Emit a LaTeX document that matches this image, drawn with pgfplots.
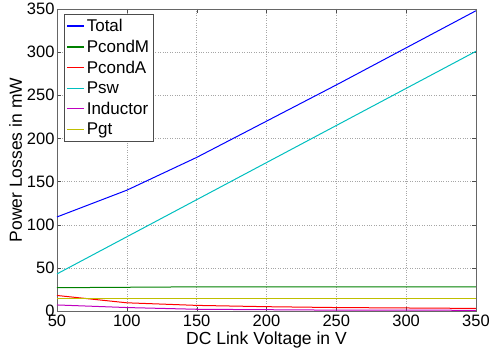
\documentclass[border=0pt]{standalone}
\usepackage{pgfplots}
\pgfplotsset{compat=1.18}
\usepackage{fontspec}
\setmainfont{Liberation Sans}
\begin{document}
\begin{tikzpicture}
\useasboundingbox (-57pt,-45pt) rectangle (433pt,311pt);
\begin{axis}[
  scale only axis, width=419pt, height=302pt,
  xmin=50, xmax=350, ymin=0, ymax=350,
  xtick={50,100,...,350}, ytick={0,50,...,350},
  grid=major, grid style={dotted, gray!70},
  tick align=inside, tick style={black!70},
  axis line style={black!60},
  /pgf/number format/assume math mode=true,
  ticklabel style={font=\fontsize{16.5}{18}\selectfont},
  yticklabel style={xshift=1pt},
  label style={font=\fontsize{17.5}{18}\selectfont},
  xlabel={DC Link Voltage in V}, ylabel={Power Losses in mW},
  xlabel style={yshift=1pt}, ylabel style={yshift=-2pt},
  legend style={font=\fontsize{17}{22}\selectfont, draw=black!70, inner sep=2pt, at={(0.017,0.985)}, anchor=north west, legend cell align=left, nodes={inner ysep=3.5pt}},
  legend image post style={line width=1.4pt},
  every axis plot/.append style={line width=1pt},
]
\addplot[color={rgb,1:red,0;green,0;blue,1}] coordinates {(50,109) (100,140) (150,178) (200,220) (250,262) (300,305) (350,348)};
\addplot[color={rgb,1:red,0;green,0.5;blue,0}] coordinates {(50,27) (100,27.5) (150,28) (200,28) (250,28) (300,28) (350,28)};
\addplot[color={rgb,1:red,1;green,0;blue,0}] coordinates {(50,18) (100,9.5) (150,6.5) (200,5) (250,4) (300,3.5) (350,3)};
\addplot[color={rgb,1:red,0;green,0.75;blue,0.75}] coordinates {(50,43) (100,86) (150,129) (200,172) (250,215) (300,258) (350,301)};
\addplot[color={rgb,1:red,0.75;green,0;blue,0.75}] coordinates {(50,7) (100,4) (150,2) (200,1.5) (250,1) (300,1) (350,0.8)};
\addplot[color={rgb,1:red,0.75;green,0.75;blue,0}] coordinates {(50,14) (100,14) (150,14) (200,14) (250,14) (300,14) (350,14)};
\legend{Total,PcondM,PcondA,Psw,Inductor,Pgt}
\end{axis}
\end{tikzpicture}
\end{document}
